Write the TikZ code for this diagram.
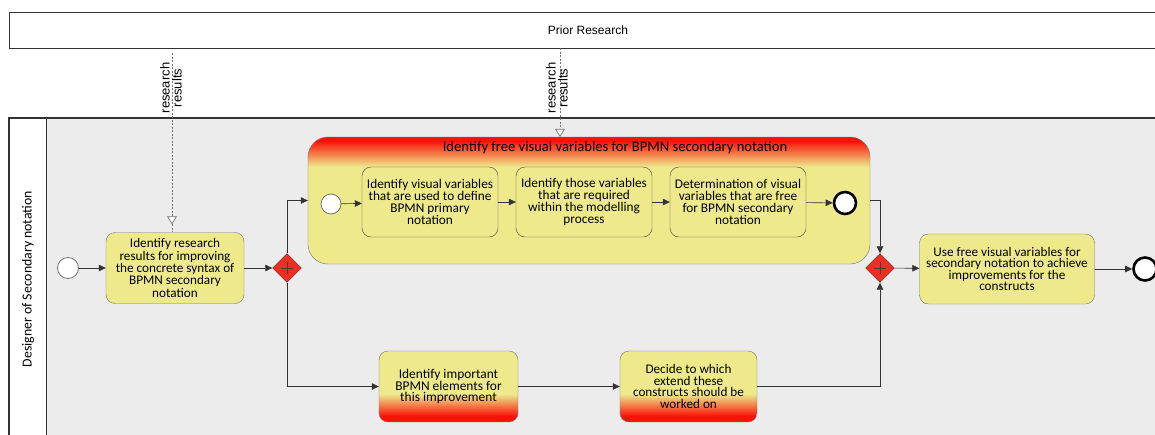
\documentclass[tikz,border=0pt]{standalone}
\usepackage{fontspec}
\setmainfont{Carlito}
\newfontfamily\arialfont{Liberation Sans}
\usetikzlibrary{arrows.meta,shapes.geometric,calc}

\definecolor{taskyellow}{RGB}{238,234,140}
\definecolor{hotred}{RGB}{250,18,8}
\definecolor{gatered}{RGB}{240,45,35}
\definecolor{lanegray}{RGB}{236,236,236}
\definecolor{edgegray}{RGB}{115,115,115}

\tikzset{
  x=1pt, y=-1pt,
  taskbox/.style={draw=edgegray, fill=taskyellow, rounded corners=9pt,
    minimum width=138pt, minimum height=71pt, align=center, inner sep=1pt,
    font=\fontsize{13.2}{11}\selectfont},
  subtaskbox/.style={taskbox, draw=black!75, minimum width=136pt, minimum height=70pt,
    font=\fontsize{13.3}{12}\selectfont},
  % red-to-yellow band along the top edge, built from thin strips
  hottop/.style={path picture={
    \foreach \i in {0,...,32}{
      \pgfmathtruncatemacro\p{max(0,min(100,100*(30-\i)/26))}
      \pgfmathsetmacro\ya{-\i}
      \pgfmathsetmacro\yb{-\i-1.4}
      \fill[sharp corners, hotred!\p!taskyellow]
        ([yshift=\ya pt]path picture bounding box.north west) rectangle
        ([yshift=\yb pt]path picture bounding box.north east);
    }}},
  % yellow-to-red band along the bottom edge
  hotbottom/.style={path picture={
    \foreach \i in {0,...,30}{
      \pgfmathtruncatemacro\p{max(0,min(100,100*(27-\i)/22))}
      \pgfmathsetmacro\ya{\i}
      \pgfmathsetmacro\yb{\i+1.4}
      \fill[sharp corners, hotred!\p!taskyellow]
        ([yshift=\ya pt]path picture bounding box.south west) rectangle
        ([yshift=\yb pt]path picture bounding box.south east);
    }}},
  gateway/.style={diamond, aspect=1, draw=black!75, fill=gatered, minimum size=29pt, inner sep=0pt,
    path picture={
      \draw[line width=1pt] ([xshift=-6pt]path picture bounding box.center) -- ([xshift=6pt]path picture bounding box.center);
      \draw[line width=1pt] ([yshift=-6pt]path picture bounding box.center) -- ([yshift=6pt]path picture bounding box.center);}},
  startev/.style={circle, draw=black!55, fill=white, minimum size=21pt, inner sep=0pt, line width=0.8pt},
  endev/.style={circle, draw=black, fill=white, minimum size=21pt, inner sep=0pt, line width=2.6pt},
  flow/.style={draw=black!80, line width=0.6pt, -{Triangle[length=7pt,width=6.5pt]}},
  assoc/.style={draw=black!55, line width=0.7pt, dash pattern=on 2pt off 1.5pt,
    -{Triangle[length=8pt,width=10pt,fill=white,line width=0.7pt]}},
  assocline/.style={draw=black!55, line width=0.7pt, dash pattern=on 2pt off 1.5pt},
  flowlabel/.style={rotate=90, align=center, inner sep=0pt, font=\arialfont\fontsize{13}{12}\selectfont},
}

\begin{document}
\begin{tikzpicture}
\useasboundingbox (0,0) rectangle (1155,434);
\clip (0,0) rectangle (1155,434);

% external pool
\node[draw=black!80, line width=1.2pt, minimum width=1170pt, minimum height=36pt, anchor=north west, inner sep=0pt] (prior) at (9,12) {};
\node[font=\arialfont\fontsize{12}{12}\selectfont] (priorlabel) at (588,30) {Prior Research};

% designer pool with its lane label column
\fill[lanegray] (46,118) rectangle (1170,445);
\draw[black!80, line width=1.2pt] (9,445) -- (9,118) -- (1170,118);
\draw[black!80, line width=1pt] (46,118) -- (46,445);
\node[rotate=90, font=\fontsize{13.8}{13}\selectfont] (lanelabel) at (28,279) {Designer of Secondary notation};

% main sequence
\node[startev] (start) at (68,268) {};
\node[taskbox] (research) at (175,268) {Identify research\\results for improving\\the concrete syntax of\\BPMN secondary\\notation};
\node[gateway] (split) at (287,268) {};

% sub-process
\node[taskbox, hottop, rounded corners=20pt, minimum width=562pt, minimum height=127pt] (sub) at (589,200.5) {};
\node[font=\fontsize{14.6}{14}\selectfont] (subtitle) at (615,148) {Identify free visual variables for BPMN secondary notation};
\node[startev, minimum size=20pt] (substart) at (331,204) {};
\node[subtaskbox] (used) at (430,202) {Identify visual variables\\that are used to define\\BPMN primary\\notation};
\node[subtaskbox] (required) at (584,202) {Identify those variables\\that are required\\within the modelling\\process};
\node[subtaskbox] (free) at (738,202) {Determination of visual\\variables that are free\\for BPMN secondary\\notation};
\node[endev, minimum size=22pt] (subend) at (845,203) {};

% lower branch
\node[taskbox, hotbottom, minimum width=139pt, font=\fontsize{13.4}{11.6}\selectfont] (elements) at (448.5,386.5) {Identify important\\BPMN elements for\\this improvement};
\node[taskbox, hotbottom, minimum width=137pt, font=\fontsize{13.2}{11.6}\selectfont] (decide) at (688.5,386.5) {Decide to which\\extend these\\constructs should be\\worked on};

% join and final task
\node[gateway] (join) at (880,268) {};
\node[taskbox, minimum width=175pt, minimum height=70pt, font=\fontsize{13.2}{11}\selectfont] (use) at (1007,269) {Use free visual variables for\\secondary notation to achieve\\improvements for the\\constructs};
\node[endev, minimum size=23pt] (end) at (1145,269) {};

% sequence flows
\draw[flow] (start) -- (research);
\draw[flow] (research) -- (split);
\draw[flow] (split.north) |- (sub.west);
\draw[flow] (split.south) |- (elements.west);
\draw[flow] (substart) -- (used);
\draw[flow] (used) -- (required);
\draw[flow] (required) -- (free);
\draw[flow] (free) -- (subend);
\draw[flow] (sub.east) -| (join.north);
\draw[flow] (elements) -- (decide);
\draw[flow] (decide.east) -| (join.south);
\draw[flow] (join) -- (use);
\draw[flow] (use) -- (end);

% data associations from the prior research pool
\coordinate (r1) at (172,53);
\coordinate (r2) at (560,48);
\draw[assoc] (r1) -- ([yshift=8pt]research.north -| r1);
\draw[assocline] ([yshift=8pt]research.north -| r1) -- (research.north -| r1);
\draw[assoc] (r2) -- (sub.north -| r2);
\node[flowlabel] (lab1) at (171,88) {research\\results};
\node[flowlabel] (lab2) at (557,88) {research\\results};
\end{tikzpicture}
\end{document}
